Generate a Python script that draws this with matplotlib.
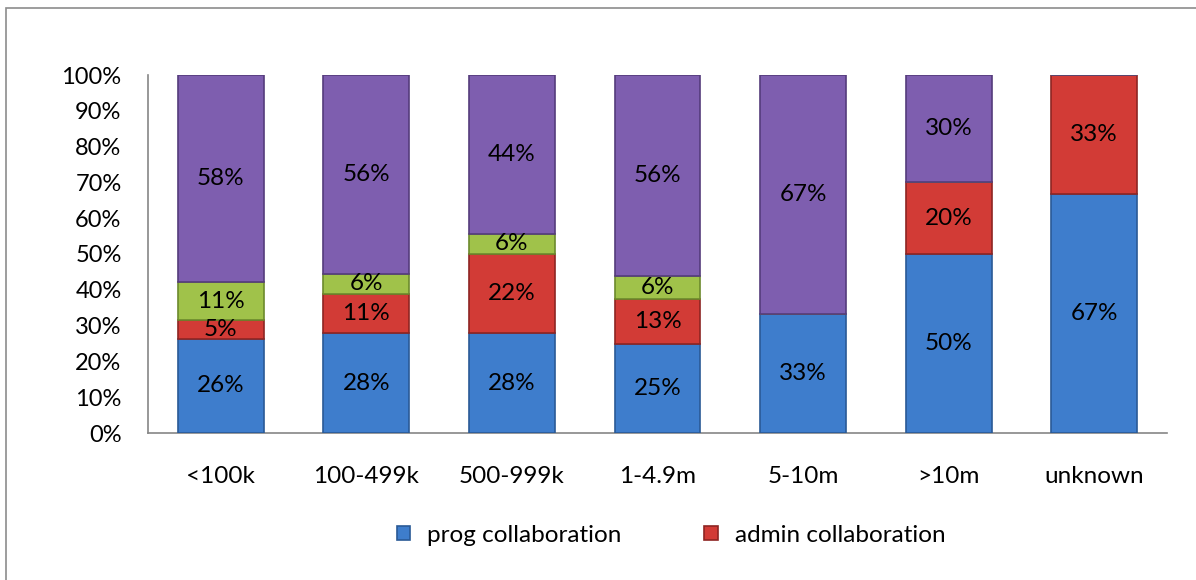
import matplotlib
matplotlib.use("Agg")
import matplotlib.pyplot as plt
from matplotlib.patches import Rectangle
import numpy as np

categories = ["<100k", "100-499k", "500-999k", "1-4.9m", "5-10m", ">10m", "unknown"]
prog = [26.3, 27.8, 27.8, 25.0, 33.3, 50.0, 66.7]
admin = [5.3, 11.1, 22.2, 12.5, 0.0, 20.0, 33.3]
green_s = [10.5, 5.6, 5.6, 6.25, 0.0, 0.0, 0.0]
purple_s = [57.9, 55.6, 44.4, 56.25, 66.7, 30.0, 0.0]
yticks = [0, 10, 20, 30, 40, 50, 60, 70, 80, 90, 100]

series = [
    ("prog collaboration", prog, "#3E7DCC", "#2A5A96"),
    ("admin collaboration", admin, "#D23B36", "#8E2522"),
    ("", green_s, "#A0C24A", "#6C8A2C"),
    ("", purple_s, "#7E5EAF", "#553C7C"),
]

plt.rcParams['font.family'] = ['Lato', 'DejaVu Sans']

W, H = 1196, 580
fig = plt.figure(figsize=(W / 100, H / 100), dpi=100)
fig.patch.set_facecolor("white")

# outer frame (extends past the crop on right/bottom)
fig.patches.append(Rectangle((6 / W, -0.05), 1.1, (H - 8) / H + 0.05,
                             transform=fig.transFigure, fill=False,
                             edgecolor="#8C8C8C", linewidth=1.2))

ax = fig.add_axes([148 / W, 1 - 433 / H, (1167 - 148) / W, (433 - 75) / H])
x = np.arange(len(categories))
width = 0.59
bottom = np.zeros(len(categories))
handles = []
for name, vals, fc, ec in series:
    vals = np.array(vals)
    bars = ax.bar(x, vals, width, bottom=bottom, color=fc, edgecolor=ec,
                  linewidth=1.2, zorder=3)
    if name:
        handles.append((bars, name))
    for xi, v, b in zip(x, vals, bottom):
        if v > 0:
            ax.text(xi, b + v / 2, f"{int(v + 0.5)}%", ha="center", va="center",
                    fontsize=17.5, color="black", zorder=4)
    bottom += vals

ax.set_xlim(-0.5, len(categories) - 0.5)
ax.set_ylim(0, 100)
ax.set_yticks(yticks)
ax.set_yticklabels([f"{t}%" for t in yticks], fontsize=17)
ax.set_xticks(x)
ax.set_xticklabels(categories, fontsize=17.5)
ax.tick_params(axis="both", length=0)
ax.tick_params(axis="x", pad=24)
ax.tick_params(axis="y", pad=19)
for s in ["top", "right"]:
    ax.spines[s].set_visible(False)
ax.spines["left"].set_color("#868686")
ax.spines["bottom"].set_color("#868686")
ax.spines["left"].set_linewidth(1.2)
ax.spines["bottom"].set_linewidth(1.2)

leg = fig.legend([h for h, _ in handles], [n for _, n in handles],
                 loc="center left", bbox_to_anchor=(397 / W, 1 - 535 / H),
                 ncol=2, frameon=False, fontsize=17.5, handlelength=0.55,
                 handleheight=0.55, columnspacing=3.4, handletextpad=0.7,
                 borderpad=0.0, borderaxespad=0.0)

fig.savefig("out.png", dpi=100)
